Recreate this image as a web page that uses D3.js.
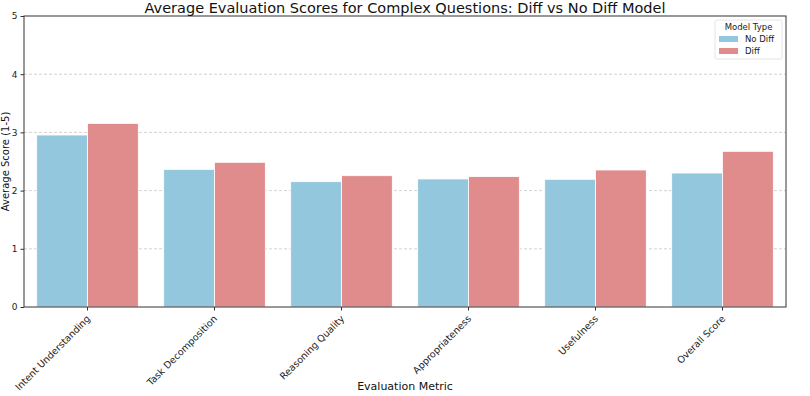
<!DOCTYPE html>
<html><head><meta charset="utf-8">
<script src="https://cdn.jsdelivr.net/npm/d3@7"></script>
<style>body{margin:0;background:#fff}svg{display:block;font-family:"DejaVu Sans",sans-serif}</style>
</head><body><svg id="c" width="810" height="396"></svg>
<script>
const categories = ["Intent Understanding","Task Decomposition","Reasoning Quality","Appropriateness","Usefulness","Overall Score"];
const seriesNames = ["No Diff","Diff"];
const noDiff = [2.955, 2.365, 2.153, 2.20, 2.194, 2.302];
const diff = [3.155, 2.486, 2.256, 2.24, 2.354, 2.675];
const yTicks = [0,1,2,3,4,5];
const colors = ["#93c7dd","#e08b8c"];

const svg = d3.select("#c");
const m = {l:24, r:24, t:16, b:89};
const W = 810, H = 396;
const x = d3.scaleBand().domain(categories).range([m.l, W-m.r]).padding(0);
const xs = d3.scaleBand().domain(seriesNames).range([0, x.bandwidth()]).paddingOuter(0.25).paddingInner(0);
const y = d3.scaleLinear().domain([0,5]).range([H-m.b, m.t]);

// grid
svg.append("g").selectAll("line").data(yTicks.filter(t=>t>0&&t<5)).join("line")
  .attr("x1", m.l).attr("x2", W-m.r).attr("y1", d=>y(d)).attr("y2", d=>y(d))
  .attr("stroke","#c8c8c8").attr("stroke-width",0.8).attr("stroke-dasharray","3,2");

const vals = [noDiff, diff];
seriesNames.forEach((s,si)=>{
  svg.append("g").selectAll("rect").data(categories).join("rect")
    .attr("x", c=>x(c)+xs(s)).attr("width", xs.bandwidth())
    .attr("y", (c,i)=>y(vals[si][i])).attr("height",(c,i)=>y(0)-y(vals[si][i]))
    .attr("fill", colors[si]).attr("stroke","#fff").attr("stroke-width",0.8);
});

// axes
const ya = svg.append("g").attr("transform",`translate(${m.l},0)`)
  .call(d3.axisLeft(y).tickValues(yTicks).tickFormat(d3.format("d")).tickSize(3.5).tickPadding(3));
const xa = svg.append("g").attr("transform",`translate(0,${H-m.b})`)
  .call(d3.axisBottom(x).tickSize(3.5).tickPadding(2));
[ya,xa].forEach(a=>{a.select(".domain").remove();a.selectAll("line").attr("stroke","#333");a.selectAll("text").attr("fill","#222").attr("font-size",9).attr("font-family","DejaVu Sans");});
xa.selectAll("text").attr("font-size",9.5).attr("text-anchor","end").attr("x",0).attr("y",0).attr("dy","0.35em")
  .attr("transform","translate(1,10) rotate(-45)");

// frame
svg.append("rect").attr("x",m.l).attr("y",m.t).attr("width",W-m.l-m.r).attr("height",H-m.t-m.b)
  .attr("fill","none").attr("stroke","#333").attr("stroke-width",1);

// title & labels
svg.append("text").attr("x",405).attr("y",13).attr("text-anchor","middle").attr("font-size",14.5).attr("fill","#111")
  .text("Average Evaluation Scores for Complex Questions: Diff vs No Diff Model");
svg.append("text").attr("x",405).attr("y",390).attr("text-anchor","middle").attr("font-size",11).attr("fill","#111").text("Evaluation Metric");
svg.append("text").attr("transform",`translate(9,${(m.t+H-m.b)/2}) rotate(-90)`).attr("text-anchor","middle").attr("font-size",10).attr("fill","#111").text("Average Score (1-5)");

// legend
const lg = svg.append("g").attr("transform","translate(715,20)");
lg.append("rect").attr("width",67).attr("height",39).attr("rx",2).attr("fill","#fff").attr("fill-opacity",0.8).attr("stroke","#ddd").attr("stroke-width",0.8);
lg.append("text").attr("x",33.5).attr("y",10).attr("text-anchor","middle").attr("font-size",8.5).attr("fill","#222").text("Model Type");
seriesNames.forEach((s,i)=>{
  lg.append("rect").attr("x",4).attr("y",16+i*12).attr("width",19).attr("height",6).attr("fill",colors[i]);
  lg.append("text").attr("x",30).attr("y",22+i*12).attr("font-size",8.5).attr("fill","#222").text(s);
});
</script></body></html>
